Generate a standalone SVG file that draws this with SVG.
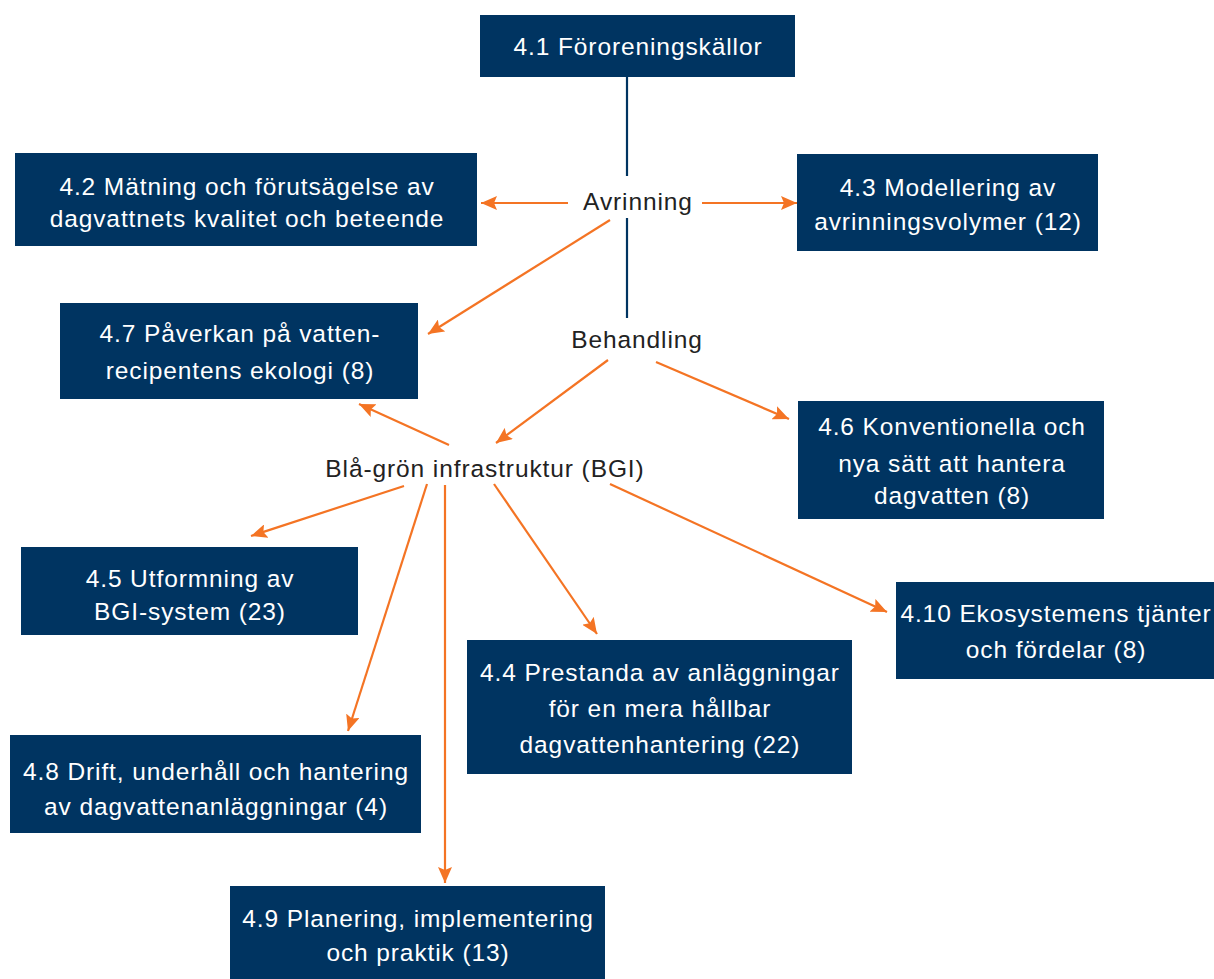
<svg xmlns="http://www.w3.org/2000/svg" width="1214" height="979" viewBox="0 0 1214 979">
<style>
.box{fill:#003461}
.bt{fill:#ffffff;font-family:"Liberation Sans",Arial,sans-serif;font-size:24.5px;letter-spacing:0.9px;text-anchor:middle}
.lt{fill:#222222;font-family:"Liberation Sans",Arial,sans-serif;font-size:24.5px;letter-spacing:0.9px;text-anchor:middle}
.ar{stroke:#f47424;stroke-width:2.2;fill:none;marker-end:url(#ah)}
.vl{stroke:#003461;stroke-width:2.2;fill:none}
</style>
<defs>
<marker id="ah" markerUnits="userSpaceOnUse" markerWidth="18" markerHeight="14" refX="16" refY="7" orient="auto">
<path d="M0,0 L16,7 L0,14 L3,7 z" fill="#f47424"/>
</marker>
</defs>
<rect width="1214" height="979" fill="#ffffff"/>
<g id="connectors">
<line class="vl" x1="627" y1="77" x2="627" y2="176"/>
<line class="vl" x1="627" y1="218" x2="627" y2="318"/>
<line class="ar" x1="568" y1="203" x2="481" y2="203"/>
<line class="ar" x1="702" y1="203" x2="797" y2="203"/>
<line class="ar" x1="610" y1="220" x2="428" y2="334"/>
<line class="ar" x1="608" y1="360" x2="496" y2="443"/>
<line class="ar" x1="656" y1="362" x2="789" y2="419"/>
<line class="ar" x1="449" y1="445" x2="359" y2="404"/>
<line class="ar" x1="404" y1="486" x2="251" y2="536"/>
<line class="ar" x1="427" y1="484" x2="348" y2="731"/>
<line class="ar" x1="445" y1="485" x2="445" y2="883"/>
<line class="ar" x1="494" y1="484" x2="597" y2="634"/>
<line class="ar" x1="610" y1="484" x2="887" y2="612"/>
</g>
<g id="labels">
<text class="lt" x="638" y="210">Avrinning</text>
<text class="lt" x="637" y="348">Behandling</text>
<text class="lt" x="485" y="477">Blå-grön infrastruktur (BGI)</text>
</g>
<g id="n41"><rect class="box" x="480" y="15" width="315" height="62"/><text class="bt" x="638" y="55">4.1 Föroreningskällor</text></g>
<g id="n42"><rect class="box" x="15" y="153" width="462" height="93"/><text class="bt" x="247" y="195">4.2 Mätning och förutsägelse av</text><text class="bt" x="247" y="227">dagvattnets kvalitet och beteende</text></g>
<g id="n43"><rect class="box" x="797" y="154" width="301" height="97"/><text class="bt" x="948" y="196">4.3 Modellering av</text><text class="bt" x="948" y="230">avrinningsvolymer (12)</text></g>
<g id="n47"><rect class="box" x="60" y="303" width="358" height="96"/><text class="bt" x="240" y="342">4.7 Påverkan på vatten-</text><text class="bt" x="240" y="379">recipentens ekologi (8)</text></g>
<g id="n46"><rect class="box" x="798" y="401" width="306" height="118"/><text class="bt" x="952" y="435">4.6 Konventionella och</text><text class="bt" x="952" y="472">nya sätt att hantera</text><text class="bt" x="952" y="504">dagvatten (8)</text></g>
<g id="n45"><rect class="box" x="21" y="547" width="337" height="88"/><text class="bt" x="190" y="587">4.5 Utformning av</text><text class="bt" x="190" y="620">BGI-system (23)</text></g>
<g id="n410"><rect class="box" x="896" y="582" width="318" height="97"/><text class="bt" x="1056" y="622">4.10 Ekosystemens tjänter</text><text class="bt" x="1056" y="658">och fördelar (8)</text></g>
<g id="n44"><rect class="box" x="467" y="640" width="385" height="134"/><text class="bt" x="660" y="681">4.4 Prestanda av anläggningar</text><text class="bt" x="660" y="717">för en mera hållbar</text><text class="bt" x="660" y="753">dagvattenhantering (22)</text></g>
<g id="n48"><rect class="box" x="10" y="735" width="411" height="98"/><text class="bt" x="216" y="780">4.8 Drift, underhåll och hantering</text><text class="bt" x="216" y="815">av dagvattenanläggningar (4)</text></g>
<g id="n49"><rect class="box" x="230" y="886" width="375" height="93"/><text class="bt" x="418" y="927">4.9 Planering, implementering</text><text class="bt" x="418" y="961">och praktik (13)</text></g>
</svg>
